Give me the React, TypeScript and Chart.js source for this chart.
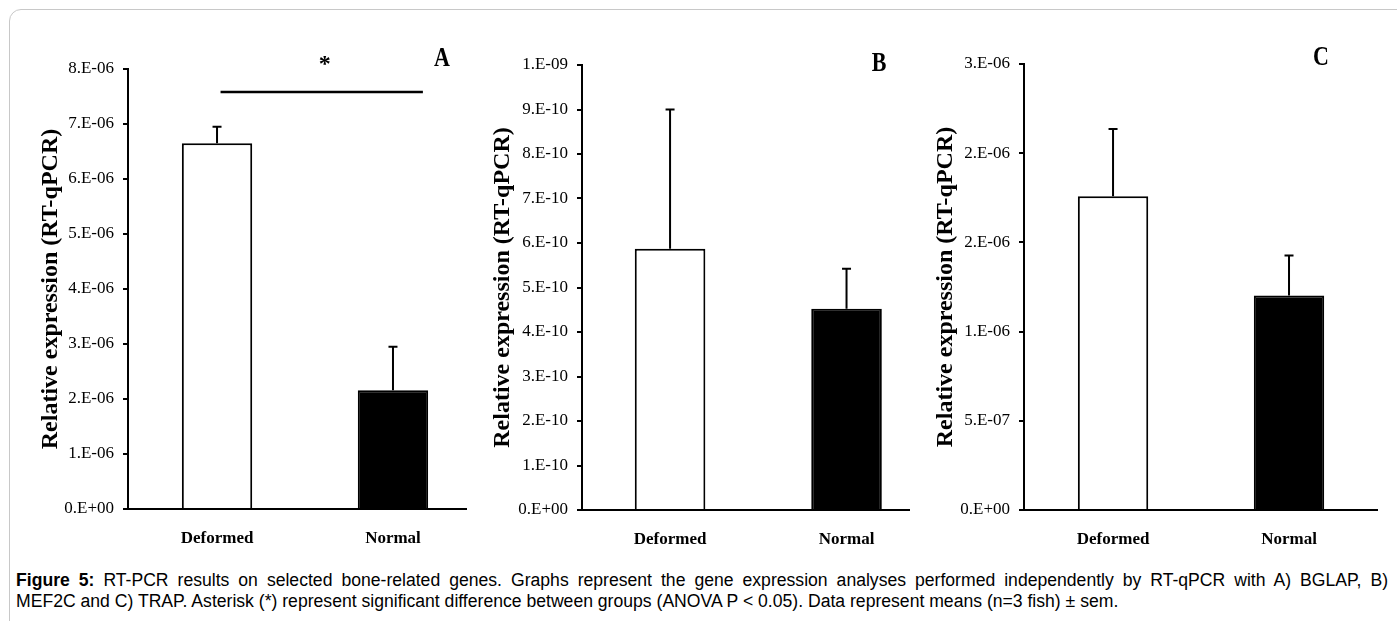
import React, { useEffect, useRef } from 'react';
import { Chart, registerables } from 'chart.js';

Chart.register(...registerables);

// ---------- data ----------
const categories = ['Deformed', 'Normal'];

const meansA = [6.65e-6, 2.16e-6];
const semA = [0.3e-6, 0.79e-6];
const tickLabelsA = ['0.E+00', '1.E-06', '2.E-06', '3.E-06', '4.E-06', '5.E-06', '6.E-06', '7.E-06', '8.E-06'];
const stepA = 1e-6;

const meansB = [5.87e-10, 4.52e-10];
const semB = [3.13e-10, 0.9e-10];
const tickLabelsB = ['0.E+00', '1.E-10', '2.E-10', '3.E-10', '4.E-10', '5.E-10', '6.E-10', '7.E-10', '8.E-10', '9.E-10', '1.E-09'];
const stepB = 1e-10;

const meansC = [1.758e-6, 1.202e-6];
const semC = [0.377e-6, 0.225e-6];
const tickLabelsC = ['0.E+00', '5.E-07', '1.E-06', '2.E-06', '2.E-06', '3.E-06'];
const stepC = 5e-7;

// significance bracket for panel A (x in category units, y in data units)
const sigA = { from: 0.02, to: 1.17, level: 7.58e-6, label: '*' };

const yTitle = 'Relative expression (RT-qPCR)';
const serif = '"Liberation Serif", "Times New Roman", serif';

const captionLine1 = 'RT-PCR results on selected bone-related genes. Graphs represent the gene expression analyses performed independently by RT-qPCR with A) BGLAP, B)';
const captionLine2 = 'MEF2C and C) TRAP. Asterisk (*) represent significant difference between groups (ANOVA P < 0.05). Data represent means (n=3 fish) ± sem.';

type Panel = {
  key: string;
  means: number[];
  sem: number[];
  tickLabels: string[];
  step: number;
  left: number;
  top: number;
  width: number;
  height: number;
  padTop: number;
  yWidth: number;
  titlePad: number;
  xMin: number;
  xMax: number;
  sig?: { from: number; to: number; level: number; label: string };
};

const panels: Panel[] = [
  { key: 'A', means: meansA, sem: semA, tickLabels: tickLabelsA, step: stepA, left: 20, top: 20, width: 450, height: 534, padTop: 49, yWidth: 108, titlePad: 16, xMin: -0.506, xMax: 1.415, sig: sigA },
  { key: 'B', means: meansB, sem: semB, tickLabels: tickLabelsB, step: stepB, left: 472, top: 20, width: 441, height: 535, padTop: 45, yWidth: 110, titlePad: 16, xMin: -0.499, xMax: 1.354 },
  { key: 'C', means: meansC, sem: semC, tickLabels: tickLabelsC, step: stepC, left: 915, top: 20, width: 466, height: 535, padTop: 44, yWidth: 109, titlePad: 16, xMin: -0.506, xMax: 1.5 },
];

function errorBarPlugin(p: Panel) {
  return {
    id: 'errbars' + p.key,
    afterDatasetsDraw(chart: any) {
      const { ctx } = chart;
      const xs = chart.scales.x;
      const ys = chart.scales.y;
      ctx.save();
      ctx.strokeStyle = '#000';
      ctx.lineWidth = 2;
      p.means.forEach((m, i) => {
        const x = xs.getPixelForValue(i);
        const y0 = ys.getPixelForValue(m);
        const y1 = ys.getPixelForValue(m + p.sem[i]);
        ctx.beginPath();
        ctx.moveTo(x, y0);
        ctx.lineTo(x, y1);
        ctx.moveTo(x - 4.5, y1);
        ctx.lineTo(x + 4.5, y1);
        ctx.stroke();
      });
      if (p.sig) {
        const xa = xs.getPixelForValue(p.sig.from);
        const xb = xs.getPixelForValue(p.sig.to);
        const yl = ys.getPixelForValue(p.sig.level);
        ctx.lineWidth = 2.5;
        ctx.beginPath();
        ctx.moveTo(xa, yl);
        ctx.lineTo(xb, yl);
        ctx.stroke();
        ctx.fillStyle = '#000';
        ctx.font = 'bold 24px ' + serif;
        ctx.textAlign = 'center';
        ctx.textBaseline = 'middle';
        ctx.fillText(p.sig.label, (xa + xb) / 2 + 3, yl - 27);
      }
      ctx.restore();
    },
  };
}

function PanelChart({ p }: { p: Panel }) {
  const ref = useRef<HTMLCanvasElement>(null);
  useEffect(() => {
    if (!ref.current) return;
    const chart = new Chart(ref.current, {
      type: 'bar',
      data: {
        datasets: [
          {
            data: p.means.map((m, i) => ({ x: i, y: m })),
            backgroundColor: ['#ffffff', '#000000'],
            borderColor: '#000000',
            borderWidth: 2,
            barPercentage: 0.4,
            categoryPercentage: 1,
          } as any,
        ],
      },
      options: {
        responsive: false,
        animation: false,
        events: [],
        layout: { padding: { top: p.padTop, right: 4, left: 0, bottom: 0 } },
        plugins: { legend: { display: false }, tooltip: { enabled: false } },
        scales: {
          x: {
            type: 'linear',
            min: p.xMin,
            max: p.xMax,
            offset: false,
            afterBuildTicks: (s: any) => {
              s.ticks = categories.map((_, i) => ({ value: i }));
            },
            afterFit: (s: any) => {
              s.height = 45;
            },
            grid: { display: false, drawTicks: false, offset: false },
            border: { display: true, color: '#000', width: 2 },
            ticks: {
              callback: (v: any) => categories[v] ?? '',
              font: { family: serif, size: 17, weight: 'bold' },
              color: '#000',
              padding: 19,
              maxRotation: 0,
              autoSkip: false,
            },
          },
          y: {
            min: 0,
            max: p.step * (p.tickLabels.length - 1),
            afterBuildTicks: (s: any) => {
              s.ticks = p.tickLabels.map((_, i) => ({ value: i * p.step }));
            },
            afterFit: (s: any) => {
              s.width = p.yWidth;
            },
            grid: { display: true, drawOnChartArea: false, drawTicks: true, tickLength: 5, color: '#000', lineWidth: 2 },
            border: { display: true, color: '#000', width: 2 },
            ticks: {
              callback: (_v: any, i: number) => p.tickLabels[i],
              font: { family: serif, size: 17 },
              color: '#000',
              padding: 9,
            },
            title: {
              display: true,
              text: yTitle,
              font: { family: serif, size: 24, weight: 'bold' },
              color: '#000',
              padding: { top: p.titlePad, bottom: 0 },
            },
          },
        },
      } as any,
      plugins: [errorBarPlugin(p)],
    });
    return () => chart.destroy();
  }, [p]);
  return (
    <canvas
      ref={ref}
      width={p.width}
      height={p.height}
      style={{ position: 'absolute', left: p.left, top: p.top, width: p.width, height: p.height }}
    />
  );
}

const letters = [
  { text: 'A', x: 442, y: 58 },
  { text: 'B', x: 879, y: 63 },
  { text: 'C', x: 1321, y: 57 },
];

export default function App() {
  const capFont = '17.6px "Liberation Sans", Arial, sans-serif';
  return (
    <div
      style={{
        position: 'absolute',
        left: 0,
        top: 0,
        width: 1397,
        height: 621,
        overflow: 'hidden',
        background: '#fff',
      }}
    >
      <div
        style={{
          position: 'absolute',
          left: 9,
          top: 9,
          width: 1420,
          height: 700,
          border: '1.5px solid #c8c8c8',
          borderRadius: 12,
          boxSizing: 'border-box',
        }}
      />
      {panels.map((p) => (
        <PanelChart key={p.key} p={p} />
      ))}
      {letters.map((l) => (
        <div
          key={l.text}
          style={{
            position: 'absolute',
            left: l.x,
            top: l.y,
            transform: 'translate(-50%, -50%) scaleY(1.2)',
            font: 'bold 22px ' + serif,
            color: '#000',
            lineHeight: 1,
          }}
        >
          {l.text}
        </div>
      ))}
      <div
        style={{
          position: 'absolute',
          left: 16,
          top: 570,
          width: 1372,
          font: capFont,
          lineHeight: '21px',
          color: '#000',
          whiteSpace: 'nowrap',
          textAlign: 'justify',
          textAlignLast: 'justify',
        }}
      >
        <b>Figure 5:</b> {captionLine1}
      </div>
      <div
        style={{
          position: 'absolute',
          left: 16,
          top: 591,
          font: capFont,
          lineHeight: '21px',
          color: '#000',
          whiteSpace: 'nowrap',
        }}
      >
        {captionLine2}
      </div>
    </div>
  );
}
